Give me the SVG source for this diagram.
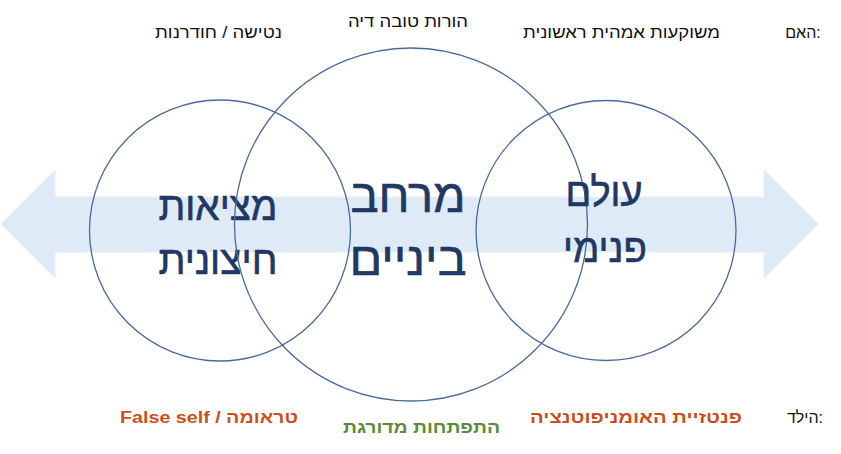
<svg xmlns="http://www.w3.org/2000/svg" width="841" height="454" viewBox="0 0 841 454">
<style>
.bg{fill:#ffffff}
.arrow{fill:#DEEAF6;stroke:#E6EFF9;stroke-width:1}
.circ{fill:none;stroke:#4A6A9E;stroke-width:1.3}
.big{font-family:"Liberation Sans","DejaVu Sans",sans-serif;fill:#1F3864;stroke:#1F3864;stroke-width:0.6;text-anchor:middle}
.lbl{font-family:"Liberation Sans","DejaVu Sans",sans-serif;font-size:16px;fill:#111111;text-anchor:middle}
.kid{font-family:"Liberation Sans","DejaVu Sans",sans-serif;font-size:16px;font-weight:bold;text-anchor:middle}
.org{fill:#C9501C}
.grn{fill:#5A8A3A}
</style>
<rect class="bg" x="0" y="0" width="841" height="454"/>
<g id="connectors">
<polygon id="arrow" class="arrow" points="1,224 55,170 55,197 764,197 764,170 818,224 764,278 764,252 55,252 55,278"/>
</g>
<g id="node-external">
<circle class="circ" cx="220" cy="230.5" r="130.5"/>
<text class="big" x="218" y="220" font-size="40" textLength="119" lengthAdjust="spacingAndGlyphs">מציאות</text>
<text class="big" x="218" y="274" font-size="40" textLength="119" lengthAdjust="spacingAndGlyphs">חיצונית</text>
</g>
<g id="node-transitional">
<circle class="circ" cx="411" cy="224.5" r="176.5"/>
<text class="big" x="408" y="212" font-size="46" textLength="115" lengthAdjust="spacingAndGlyphs">מרחב</text>
<text class="big" x="408" y="275" font-size="46" textLength="117" lengthAdjust="spacingAndGlyphs">ביניים</text>
</g>
<g id="node-internal">
<circle class="circ" cx="606" cy="230.5" r="130"/>
<text class="big" x="604" y="206" font-size="40" textLength="77" lengthAdjust="spacingAndGlyphs">עולם</text>
<text class="big" x="605" y="262" font-size="40" textLength="84" lengthAdjust="spacingAndGlyphs">פנימי</text>
</g>
<g id="mother-labels">
<text class="lbl" x="803" y="38">האם:</text>
<text class="lbl" x="621.5" y="38" textLength="197" lengthAdjust="spacingAndGlyphs">משוקעות אמהית ראשונית</text>
<text class="lbl" x="408" y="27" textLength="120" lengthAdjust="spacingAndGlyphs">הורות טובה דיה</text>
<text class="lbl" x="218.5" y="38" textLength="127" lengthAdjust="spacingAndGlyphs">נטישה / חודרנות</text>
</g>
<g id="child-labels">
<text class="lbl" x="805" y="423">הילד:</text>
<text class="kid org" x="636" y="423" textLength="212" lengthAdjust="spacingAndGlyphs">פנטזיית האומניפוטנציה</text>
<text class="kid grn" x="421.5" y="433" textLength="157" lengthAdjust="spacingAndGlyphs">התפתחות מדורגת</text>
<text class="kid org" x="209" y="423" textLength="178" lengthAdjust="spacingAndGlyphs">False self / טראומה</text>
</g>
</svg>
